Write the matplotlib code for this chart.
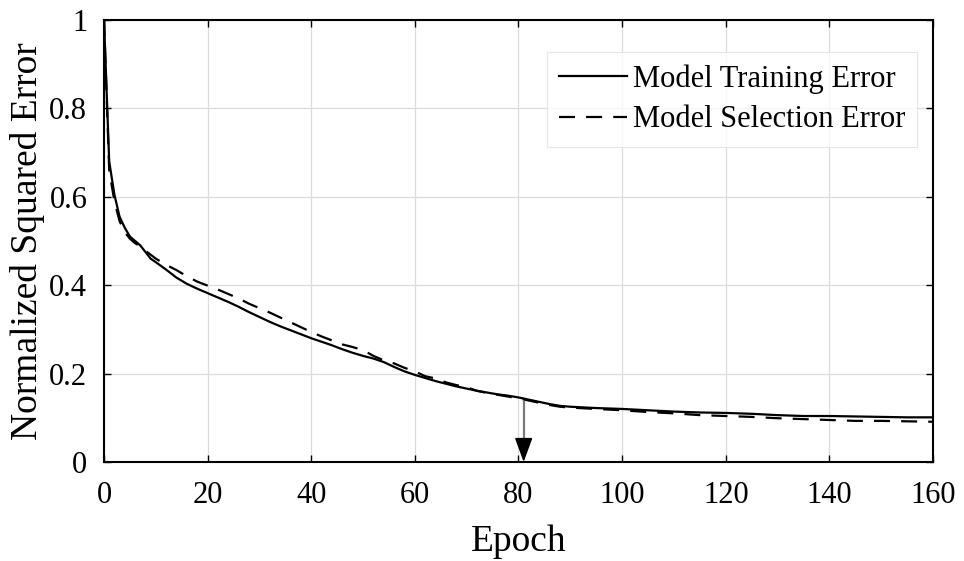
import numpy as np
import matplotlib
matplotlib.use('Agg')
import matplotlib.pyplot as plt

# error per epoch, normalised
train_epoch = [0, 1, 2, 3, 4, 5, 6, 7, 8, 9, 10, 12, 14, 16, 18, 20, 22, 24, 26, 28,
               30, 32, 34, 36, 38, 40, 42, 44, 46, 48, 50, 52, 54, 56, 58, 60, 62, 64,
               66, 68, 70, 72, 74, 76, 78, 80, 82, 84, 86, 88, 90, 95, 100, 105, 110,
               115, 120, 125, 130, 135, 140, 145, 150, 155, 160]
train_err = [1.0, 0.68, 0.605, 0.555, 0.53, 0.51, 0.50, 0.49, 0.475, 0.46, 0.452,
             0.435, 0.417, 0.403, 0.392, 0.382, 0.372, 0.362, 0.351, 0.339,
             0.328, 0.317, 0.307, 0.298, 0.289, 0.28, 0.272, 0.264, 0.255, 0.247,
             0.24, 0.234, 0.226, 0.215, 0.205, 0.197, 0.19, 0.183, 0.177, 0.171,
             0.166, 0.161, 0.157, 0.153, 0.15, 0.146, 0.141, 0.136, 0.131, 0.127,
             0.125, 0.122, 0.12, 0.117, 0.114, 0.112, 0.111, 0.109, 0.106, 0.104,
             0.104, 0.103, 0.102, 0.101, 0.101]

sel_epoch = [0, 1, 2, 3, 4, 5, 6, 7, 8, 10, 12, 14, 16, 18, 20, 22, 24, 26, 28,
             30, 32, 34, 36, 38, 40, 42, 44, 46, 48, 50, 52, 54, 56, 58, 60, 62, 64,
             66, 68, 70, 72, 74, 76, 78, 80, 82, 84, 86, 88, 90, 95, 100, 105, 110,
             115, 120, 125, 130, 135, 140, 145, 150, 155, 160]
sel_err = [1.0, 0.66, 0.59, 0.545, 0.52, 0.505, 0.495, 0.488, 0.478, 0.46,
           0.446, 0.434, 0.42, 0.408, 0.399, 0.39, 0.38, 0.37, 0.358,
           0.348, 0.338, 0.327, 0.316, 0.305, 0.294, 0.284, 0.275, 0.266, 0.26,
           0.253, 0.24, 0.23, 0.223, 0.213, 0.205, 0.194, 0.189, 0.18, 0.174,
           0.169, 0.161, 0.156, 0.152, 0.148, 0.144, 0.139, 0.134, 0.129, 0.125,
           0.123, 0.12, 0.117, 0.113, 0.11, 0.106, 0.104, 0.102, 0.099, 0.097,
           0.095, 0.093, 0.093, 0.092, 0.091]

best_epoch = 81
best_err = 0.136

xticks = [0, 20, 40, 60, 80, 100, 120, 140, 160]
yticks = [0, 0.2, 0.4, 0.6, 0.8, 1.0]
ytick_labels = ['0', '0.2', '0.4', '0.6', '0.8', '1']

plt.rcParams['font.family'] = ['Liberation Serif', 'DejaVu Serif']

fig = plt.figure(figsize=(9.64, 5.61), dpi=100)
ax = fig.add_axes([0.1079, 0.1765, 0.8599, 0.7879])

ax.plot(train_epoch, train_err, color='black', lw=1.6, label='Model Training Error')
ax.plot(sel_epoch, sel_err, color='black', lw=1.6, ls=(0, (7.2, 5)),
        label='Model Selection Error')

# stopping point marker
ax.plot([best_epoch, best_epoch], [best_err, 0.04], color='#7a7a7a', lw=1.6)
ax.annotate('', xy=(best_epoch, 0.0), xytext=(best_epoch, 0.05),
            arrowprops=dict(arrowstyle='-|>,head_length=1.5,head_width=0.55',
                            color='black', lw=1.2, shrinkA=0, shrinkB=0))

ax.set_xlim(0, 160)
ax.set_ylim(0, 1)
ax.set_xticks(xticks)
ax.set_yticks(yticks)
ax.set_yticklabels(ytick_labels)
ax.tick_params(direction='in', length=5, width=1.0, top=True, right=True,
               labelsize=22, colors='black')
ax.tick_params(axis='y', pad=12)
ax.tick_params(axis='x', pad=14)
ax.grid(True, color='#dcdcdc', lw=0.9)
ax.set_axisbelow(True)
for sp in ax.spines.values():
    sp.set_linewidth(1.5)

ax.set_xlabel('Epoch', fontsize=27, labelpad=10)
ax.set_ylabel('Normalized Squared Error', fontsize=27, labelpad=3)

leg = ax.legend(loc='upper right', bbox_to_anchor=(0.981, 0.9276), borderaxespad=0,
                fontsize=22, frameon=True, fancybox=False, handlelength=2.2,
                handletextpad=0.2, borderpad=0.4, labelspacing=0.38)
leg.get_frame().set_edgecolor('#e0e0e0')
leg.get_frame().set_linewidth(0.8)

fig.savefig('out.png', dpi=100)
